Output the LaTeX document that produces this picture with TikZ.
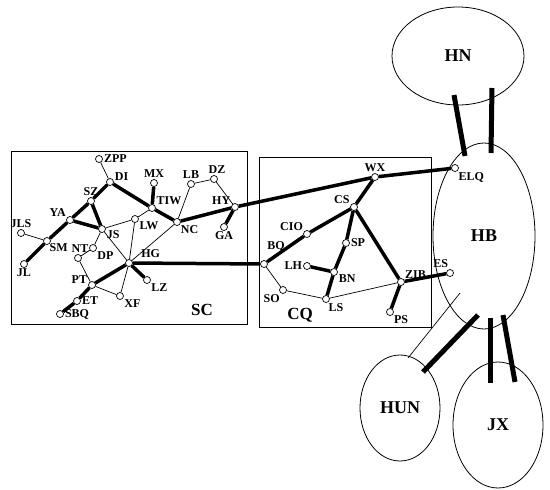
\documentclass[tikz,border=0pt]{standalone}
\usepackage{fontspec}
\setmainfont{Liberation Serif}
\usetikzlibrary{positioning,shapes.geometric}

\begin{document}
\begin{tikzpicture}[
    x=1pt, y=-1pt,
    stn/.style={circle, draw=black, fill=white, inner sep=0pt, minimum size=7pt, line width=0.7pt},
    lb/.style={font=\fontsize{12}{12}\selectfont\bfseries, inner sep=1pt},
    every label/.style={lb},
    area/.style={draw=black, line width=0.8pt},
    areaname/.style={font=\fontsize{17}{17}\selectfont\bfseries},
    province/.style={ellipse, draw=black, line width=0.8pt, font=\fontsize{18}{18}\selectfont\bfseries},
    trunk/.style={line width=3.5pt},
    branch/.style={line width=0.7pt},
    bar/.style={line width=5pt}
]
    \useasboundingbox (0,0) rectangle (550,490);

    % Region frames
    \draw[area] (11,151) rectangle (247,324);
    \draw[area] (259,157) rectangle (431,327);
    \node[areaname] (sc) at (202,310) {SC};
    \node[areaname] (cq) at (300,315) {CQ};

    % Provinces
    \node[province, minimum width=132pt, minimum height=98pt] (hn) at (458,56) {HN};
    \node[province, minimum width=102pt, minimum height=186pt] (hb) at (484,236) {HB};
    \node[province, minimum width=80pt, minimum height=106pt] (hun) at (400,408) {HUN};
    \node[province, minimum width=90pt, minimum height=126pt] (jx) at (498,425) {JX};

    % SC stations
    \node[stn, label={0:ZPP}] (zpp) at (99,159) {};
    \node[stn, label={10:DI}] (di) at (110,182) {};
    \node[stn, label={above:MX}] (mx) at (154,183) {};
    \node[stn, label={above:LB}] (lb) at (191,184) {};
    \node[stn, label={[xshift=3pt]above:DZ}] (dz) at (214,179) {};
    \node[stn, label={25:TIW}] (tiw) at (152,208) {};
    \node[stn, label={160:HY}] (hy) at (235,207) {};
    \node[stn, label={above:SZ}] (sz) at (91,201) {};
    \node[stn, label={140:YA}] (ya) at (70,220) {};
    \node[stn, label={-10:JS}] (js) at (102,229) {};
    \node[stn, label={-30:LW}] (lw) at (135,219) {};
    \node[stn, label={-45:NC}] (nc) at (177,222) {};
    \node[stn, label={below:GA}] (ga) at (224,227) {};
    \node[stn, label={above:JLS}] (jls) at (21,233) {};
    \node[stn, label={[label distance=-2pt]-35:SM}] (sm) at (47,241) {};
    \node[stn, label={[xshift=2pt]above:NT}] (nt) at (78,258) {};
    \node[stn, label={-35:DP}] (dp) at (93,248) {};
    \node[stn, label={[label distance=8pt]20:HG}] (hg) at (129,263) {};
    \node[stn, label={below:JL}] (jl) at (24,264) {};
    \node[stn, label={-35:LZ}] (lz) at (147,280) {};
    \node[stn, label={170:PT}] (pt) at (92,285) {};
    \node[stn, label={-35:XF}] (xf) at (120,296) {};
    \node[stn, label={0:ET}] (et) at (77,301) {};
    \node[stn, label={0:SBQ}] (sbq) at (60,314) {};

    % CQ stations
    \node[stn, label={above:WX}] (wx) at (375,177) {};
    \node[stn, label={150:CS}] (cs) at (354,207) {};
    \node[stn, label={140:CIO}] (cio) at (307,234) {};
    \node[stn, label={[label distance=8pt]80:BQ}] (bq) at (264,264) {};
    \node[stn, label={0:SP}] (sp) at (346,243) {};
    \node[stn, label={180:LH}] (lh) at (307,266) {};
    \node[stn, label={-15:BN}] (bn) at (334,272) {};
    \node[stn, label={-125:SO}] (so) at (283,290) {};
    \node[stn, label={-70:LS}] (ls) at (326,299) {};
    \node[stn, label={40:ZIB}] (zib) at (401,282) {};
    \node[stn, label={-40:PS}] (ps) at (390,312) {};

    % HB stations
    \node[stn, label={100:ES}] (es) at (450,273) {};
    \node[stn, label={-50:ELQ}] (elq) at (455,168) {};

    % Main lines
    \draw[trunk] (jl) -- (sm);
    \draw[trunk] (sm) -- (ya);
    \draw[trunk] (ya) -- (sz);
    \draw[trunk] (sz) -- (di);
    \draw[trunk] (di) -- (tiw);
    \draw[trunk] (tiw) -- (nc);
    \draw[trunk] (tiw) -- (mx);
    \draw[trunk] (ya) -- (js);
    \draw[trunk] (sz) -- (js);
    \draw[trunk] (nc) -- (hy);
    \draw[trunk] (hy) -- (ga);
    \draw[trunk] (hy) -- (wx);
    \draw[trunk] (hg) -- (pt);
    \draw[trunk] (pt) -- (et);
    \draw[trunk] (et) -- (sbq);
    \draw[trunk] (hg) -- (lz);
    \draw[trunk] (hg) -- (bq);
    \draw[trunk] (wx) -- (elq);
    \draw[trunk] (wx) -- (cs);
    \draw[trunk] (cs) -- (cio);
    \draw[trunk] (cio) -- (bq);
    \draw[trunk] (cs) -- (sp);
    \draw[trunk] (sp) -- (bn);
    \draw[trunk] (bn) -- (ls);
    \draw[trunk] (lh) -- (bn);
    \draw[trunk] (cs) -- (zib);
    \draw[trunk] (zib) -- (es);
    \draw[trunk] (zib) -- (ps);

    % Branch lines
    \draw[branch] (zpp) -- (di);
    \draw[branch] (jls) -- (sm);
    \draw[branch] (js) -- (lw);
    \draw[branch] (lw) -- (tiw);
    \draw[branch] (js) -- (dp);
    \draw[branch] (dp) -- (nt);
    \draw[branch] (nt) -- (pt);
    \draw[branch] (pt) -- (xf);
    \draw[branch] (xf) -- (hg);
    \draw[branch] (js) -- (hg);
    \draw[branch] (lw) -- (hg);
    \draw[branch] (nc) -- (hg);
    \draw[branch] (lb) -- (nc);
    \draw[branch] (lb) -- (dz);
    \draw[branch] (dz) -- (hy);
    \draw[branch] (bq) -- (so);
    \draw[branch] (so) -- (ls);
    \draw[branch] (ls) -- (zib);

    % Links between provinces
    \coordinate (hnA) at (454,95);  \coordinate (hbA) at (465,156);
    \coordinate (hnB) at (492,88);  \coordinate (hbB) at (491,153);
    \coordinate (hbC) at (460,293); \coordinate (hunC) at (408,358);
    \coordinate (hbD) at (478,315); \coordinate (hunD) at (423,372);
    \coordinate (hbE) at (490,318); \coordinate (jxE) at (490,383);
    \coordinate (hbF) at (503,315); \coordinate (jxF) at (515,382);
    \draw[bar] (hnA) -- (hbA);
    \draw[bar] (hnB) -- (hbB);
    \draw[branch] (hbC) -- (hunC);
    \draw[bar] (hbD) -- (hunD);
    \draw[bar] (hbE) -- (jxE);
    \draw[bar] (hbF) -- (jxF);

\end{tikzpicture}
\end{document}
